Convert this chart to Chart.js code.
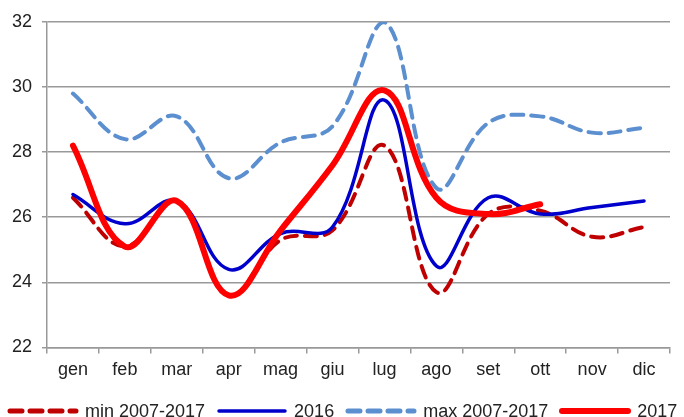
<!DOCTYPE html>
<html>
<head>
<meta charset="utf-8">
<script src="https://cdn.jsdelivr.net/npm/chart.js@4/dist/chart.umd.min.js"></script>
<style>
  html, body { margin: 0; padding: 0; background: #fff; overflow: hidden; }
  #wrap { position: relative; width: 684px; height: 417px; }
  #legend {
    position: absolute; left: 7px; top: 400px; height: 22px;
    display: flex; align-items: center; white-space: nowrap;
    font-family: 'Liberation Sans', Arial, sans-serif; font-size: 18px; color: #222;
  }
  #legend .item { display: flex; align-items: center; }
  #legend svg { margin-right: 6px; }
  #legend .item + .item { margin-left: 11px; }
</style>
</head>
<body>
<div id="wrap">
  <canvas id="chart" width="684" height="417"></canvas>
  <div id="legend"></div>
</div>
<script>
// months on the x axis
const months = ['gen', 'feb', 'mar', 'apr', 'mag', 'giu', 'lug', 'ago', 'set', 'ott', 'nov', 'dic'];
const yTicks = [22, 24, 26, 28, 30, 32];

// series
const min0717 = [26.6, 25.1, 26.5, 23.6, 25.3, 25.6, 28.2, 23.7, 26.1, 26.2, 25.4, 25.7];
const y2016   = [26.7, 25.8, 26.5, 24.4, 25.5, 25.7, 29.6, 24.5, 26.6, 26.1, 26.3, 26.5];
const max0717 = [29.8, 28.4, 29.1, 27.2, 28.3, 28.8, 32.0, 26.9, 28.9, 29.1, 28.6, 28.75];
const y2017   = [28.2, 25.1, 26.5, 23.6, 25.6, 27.6, 29.9, 26.6, 26.1, 26.4];

const font = { family: 'Liberation Sans', size: 18 };

const chart = new Chart(document.getElementById('chart'), {
    type: 'line',
    data: {
        labels: months,
        datasets: [
            {
                label: 'min 2007-2017',
                data: min0717,
                borderColor: '#c00000',
                borderWidth: 4,
                borderDash: [12, 8],
                order: 2
            },
            {
                label: '2016',
                data: y2016,
                borderColor: '#0000cc',
                borderWidth: 3.5,
                order: 1
            },
            {
                label: 'max 2007-2017',
                data: max0717,
                borderColor: '#5b8fcf',
                borderWidth: 4,
                borderDash: [12, 8],
                order: 3
            },
            {
                label: '2017',
                data: y2017,
                borderColor: '#ff0000',
                borderWidth: 6,
                order: 0
            }
        ]
    },
    options: {
        responsive: false,
        animation: false,
        elements: {
            point: { radius: 0 },
            line: { tension: 0.4, borderCapStyle: 'round', borderJoinStyle: 'round' }
        },
        layout: { padding: { top: 22, right: 14, left: 0, bottom: 30 } },
        scales: {
            x: {
                offset: true,
                grid: {
                    offset: true,
                    drawOnChartArea: false,
                    tickLength: 6,
                    color: '#999',
                    lineWidth: 1.5
                },
                border: { color: '#999', width: 1.5 },
                ticks: { color: '#222', font: font, padding: 6 }
            },
            y: {
                min: 22,
                max: 32,
                afterBuildTicks: s => { s.ticks = yTicks.map(v => ({ value: v })); },
                afterFit: s => { s.width = 47; },
                grid: { color: '#999', lineWidth: 1.5, tickLength: 5 },
                border: { color: '#999', width: 1.5 },
                ticks: { color: '#222', font: font, padding: 10 }
            }
        },
        plugins: {
            legend: { display: false },
            tooltip: { enabled: false }
        }
    }
});

// legend with line swatches, built from the datasets
const legend = document.getElementById('legend');
chart.data.datasets.forEach(ds => {
    const item = document.createElement('div');
    item.className = 'item';
    const dash = ds.borderDash ? 'stroke-dasharray="12 8"' : '';
    const w = ds.borderDash ? 5 : ds.borderWidth;
    item.innerHTML =
        '<svg width="72" height="10"><line x1="3" y1="5" x2="69" y2="5" stroke="' + ds.borderColor +
        '" stroke-width="' + w + '" stroke-linecap="round" ' + dash + '/></svg><span>' + ds.label + '</span>';
    legend.appendChild(item);
});
</script>
</body>
</html>
